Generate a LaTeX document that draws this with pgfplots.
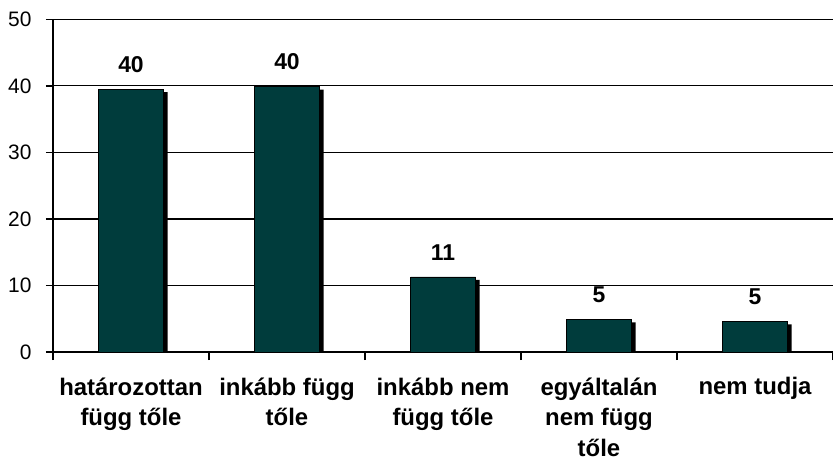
\documentclass[border=0pt]{standalone}
\usepackage{fontspec}
\setmainfont{Liberation Sans}
\usepackage{pgfplots}
\usepackage{pgfplotstable}
\pgfplotsset{compat=1.18}
\definecolor{barteal}{RGB}{0,60,60}
\pgfplotstableread{
x y lab
0 39.5 40
1 39.9 40
2 11.3 11
3 4.9 5
4 4.6 5
}\datatable
\begin{document}
\begin{tikzpicture}
\path[use as bounding box] (-53bp,-111bp) rectangle (780bp,352bp);
\begin{axis}[
  at={(0,0)}, anchor=south west,
  scale only axis, width=780bp, height=332.7bp,
  xmin=-0.5, xmax=4.5, ymin=0, ymax=50,
  ytick={0,10,...,50},
  xtick={0,...,4},
  xticklabels={határozottan\\függ tőle, inkább függ\\tőle, inkább nem\\függ tőle, egyáltalán\\nem függ\\tőle, nem tudja},
  minor xtick={-0.5,0.5,...,4.5},
  every major x tick/.append style={draw=none},
  axis x line*=bottom, axis y line*=left,
  ymajorgrids, grid style={black, line width=1.2bp},
  axis line style={black, line width=1.5bp, -},
  tick align=outside,
  major tick length=7bp, minor tick length=8bp,
  tick style={black, line width=1.5bp},
  /pgf/number format/assume math mode=true,
  yticklabel style={font=\fontsize{21}{24}\selectfont, xshift=-11bp},
  xticklabel style={font=\fontsize{24}{31}\selectfont\bfseries, align=center, yshift=-15bp},
  ybar, bar width=65bp,
]
\addplot[fill=black, draw=none, bar shift=4bp, yshift=-3bp] table[x=x,y=y] {\datatable};
\addplot[fill=barteal, draw=black, line width=0.6bp, bar shift=0pt,
  nodes near coords, point meta=explicit symbolic,
  nodes near coords style={font=\fontsize{23}{26}\selectfont\bfseries, anchor=south, yshift=13bp, black}]
  table[x=x,y=y,meta=lab] {\datatable};
\end{axis}
\end{tikzpicture}
\end{document}
